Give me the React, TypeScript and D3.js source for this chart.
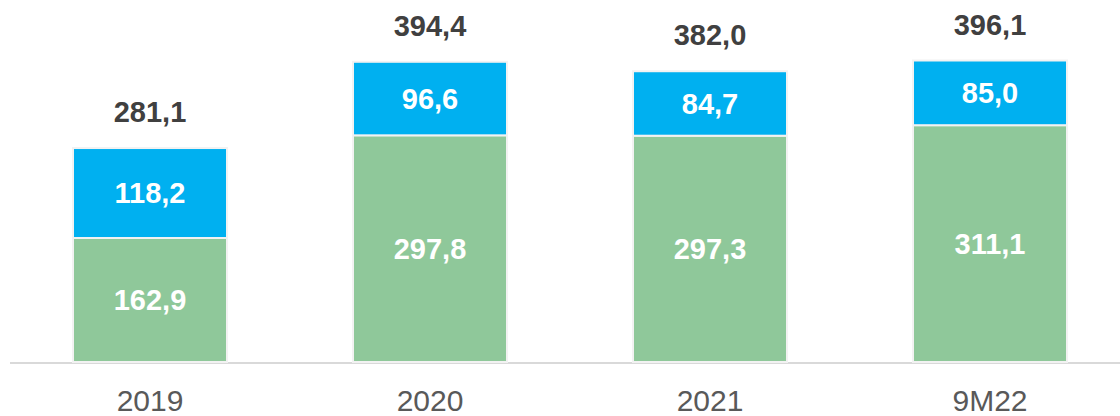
import React from "react";
import * as d3 from "d3";

const categories = ["2019", "2020", "2021", "9M22"];
const greenValues = [162.9, 297.8, 297.3, 311.1];
const blueValues = [118.2, 96.6, 84.7, 85.0];
const totalValues = [281.1, 394.4, 382.0, 396.1];

const W = 1120;
const H = 416;
const baseY = 362;
const fmt = (v: number) => v.toFixed(1).replace(".", ",");

export default function App() {
  const x = d3.scaleBand<string>().domain(categories).range([10, 1130]).paddingInner(0.45).paddingOuter(0.225);
  const y = d3.scaleLinear().domain([0, 396.1]).range([baseY, baseY - 301.5]);
  const font = "Liberation Sans, Arial, sans-serif";
  return (
    <svg width={W} height={H} style={{ position: "absolute", left: 0, top: 0 }}>
      <line x1={10} x2={1120} y1={baseY + 1} y2={baseY + 1} stroke="#d9d9d9" strokeWidth={2} />
      {categories.map((c, i) => {
        const x0 = x(c)!;
        const bw = x.bandwidth();
        const g = greenValues[i];
        const b = blueValues[i];
        const yG = y(g);
        const yT = y(g + b);
        const cx = x0 + bw / 2;
        return (
          <g key={c}>
            <rect x={x0} y={yG} width={bw} height={baseY - yG} fill="#8fc89a" stroke="#f2f2f2" strokeWidth={2} />
            <rect x={x0} y={yT} width={bw} height={yG - yT} fill="#00b0f0" stroke="#f2f2f2" strokeWidth={2} />
            <text x={cx} y={(yG + baseY) / 2} dy="0.36em" textAnchor="middle" fill="#ffffff" fontFamily={font} fontWeight="bold" fontSize={29}>
              {fmt(g)}
            </text>
            <text x={cx} y={(yT + yG) / 2} dy="0.36em" textAnchor="middle" fill="#ffffff" fontFamily={font} fontWeight="bold" fontSize={29}>
              {fmt(b)}
            </text>
            <text x={cx} y={yT - 26} textAnchor="middle" fill="#404040" fontFamily={font} fontWeight="bold" fontSize={29}>
              {fmt(totalValues[i])}
            </text>
            <text x={cx} y={411} textAnchor="middle" fill="#595959" fontFamily={font} fontSize={30}>
              {c}
            </text>
          </g>
        );
      })}
    </svg>
  );
}
